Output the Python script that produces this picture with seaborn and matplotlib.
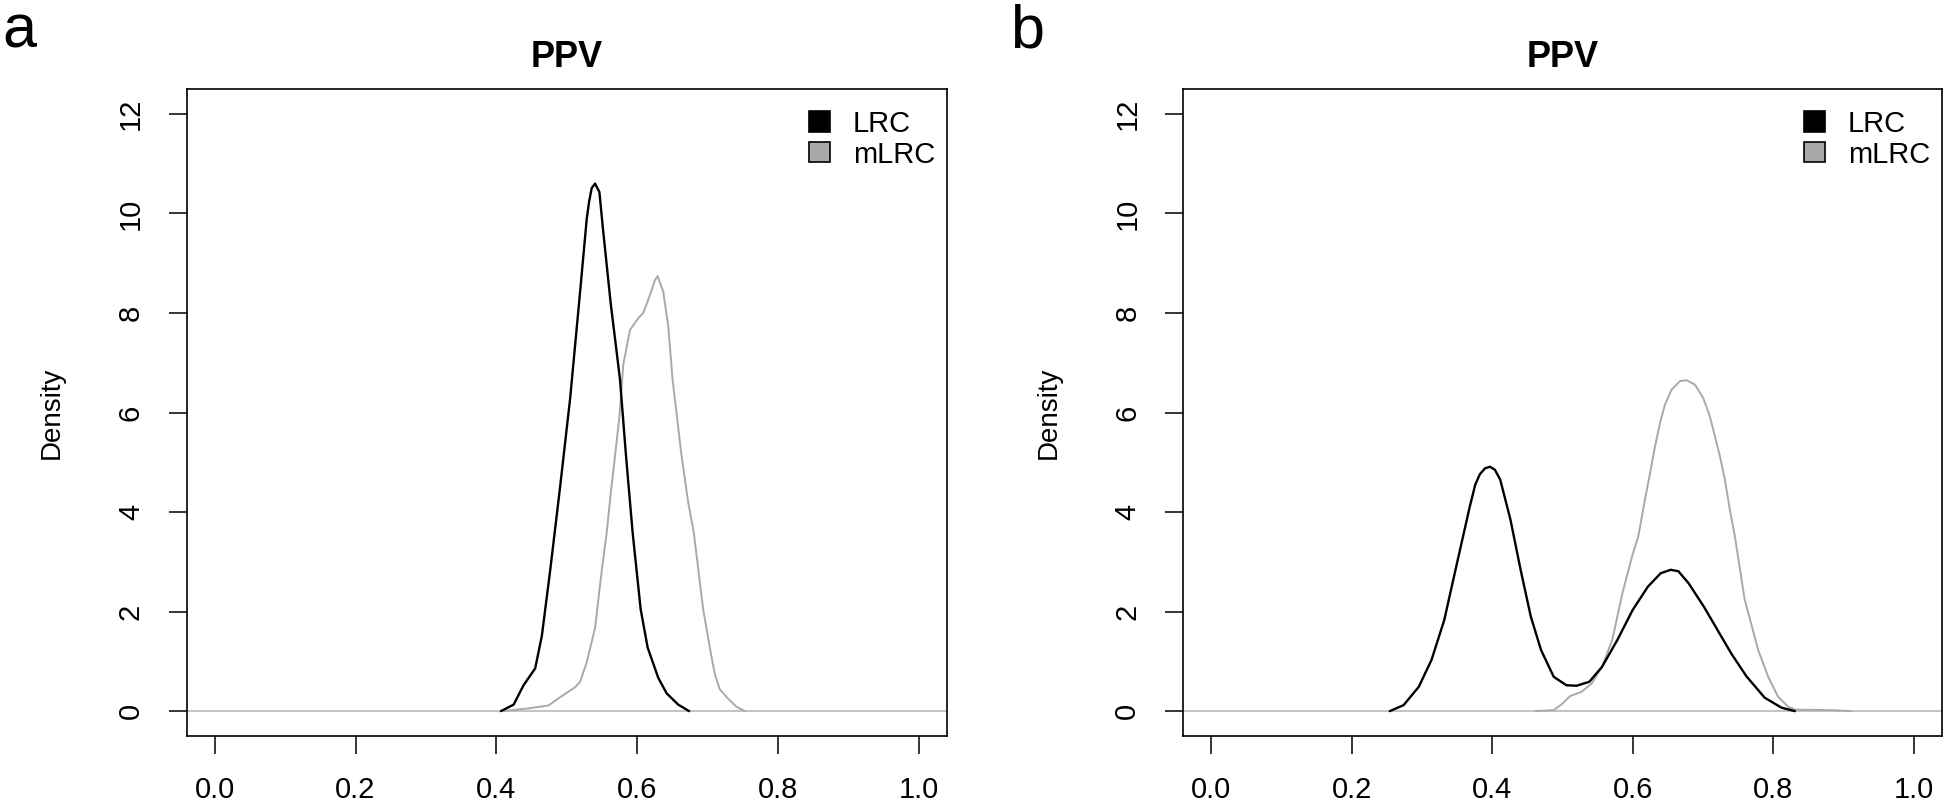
import matplotlib
matplotlib.use("Agg")
import matplotlib.pyplot as plt
from matplotlib.patches import Patch
import seaborn as sns

# density curves, panel a
lrc_a_x = [0.4066, 0.4246, 0.4387, 0.4553, 0.4647, 0.4765, 0.4907, 0.5049, 0.5191,
           0.5285, 0.532, 0.5356, 0.5403, 0.5465, 0.5512, 0.5625, 0.5758, 0.5843,
           0.5937, 0.6051, 0.615, 0.6301, 0.6419, 0.6585, 0.674]
lrc_a_y = [0.0, 0.13, 0.52, 0.86, 1.51, 2.82, 4.51, 6.28, 8.43,
           9.89, 10.25, 10.51, 10.6, 10.43, 9.74, 8.20, 6.66, 5.13,
           3.59, 2.05, 1.28, 0.67, 0.36, 0.13, 0.0]

mlrc_a_x = [0.4104, 0.4482, 0.4742, 0.4907, 0.512, 0.5191, 0.5285, 0.5403, 0.5498,
            0.5569, 0.5625, 0.5687, 0.5748, 0.5805, 0.59, 0.6018, 0.6088, 0.6183,
            0.6254, 0.6292, 0.6372, 0.6443, 0.6505, 0.6632, 0.6726, 0.6806, 0.6939,
            0.7033, 0.7104, 0.7175, 0.7293, 0.7411, 0.7529]
mlrc_a_y = [0.0, 0.06, 0.115, 0.28, 0.48, 0.59, 0.98, 1.67, 2.82,
            3.59, 4.36, 5.13, 5.90, 6.97, 7.66, 7.90, 8.0, 8.36,
            8.66, 8.74, 8.43, 7.74, 6.66, 5.13, 4.20, 3.59, 2.05,
            1.28, 0.75, 0.44, 0.25, 0.09, 0.0]

# panel b
lrc_b_x = [0.2543, 0.274, 0.2957, 0.3138, 0.3319, 0.35, 0.3681, 0.376, 0.3826, 0.39, 0.3971,
           0.404, 0.4116, 0.4261, 0.4406, 0.4551, 0.4696, 0.4877, 0.5058, 0.5203,
           0.5384, 0.5565, 0.5783, 0.6, 0.6217, 0.6399, 0.6543, 0.6652, 0.6797,
           0.7014, 0.7304, 0.7408, 0.762, 0.788, 0.8118, 0.831]
lrc_b_y = [0.0, 0.12, 0.49, 1.03, 1.83, 2.97, 4.10, 4.55, 4.76, 4.88, 4.91,
           4.85, 4.65, 3.85, 2.84, 1.90, 1.23, 0.69, 0.52, 0.51,
           0.59, 0.89, 1.43, 2.03, 2.50, 2.77, 2.84, 2.81, 2.57,
           2.10, 1.40, 1.15, 0.70, 0.27, 0.07, 0.0]

mlrc_b_x = [0.462, 0.4877, 0.5, 0.5108, 0.5275, 0.542, 0.5565, 0.571, 0.5855, 0.6,
            0.6081, 0.6176, 0.6248, 0.6319, 0.639, 0.6461, 0.6555, 0.6674, 0.6768,
            0.6887, 0.7006, 0.71, 0.7172, 0.7243, 0.7314, 0.7385, 0.7456, 0.7594,
            0.7787, 0.793, 0.807, 0.8213, 0.831, 0.8826, 0.9116]
mlrc_b_y = [0.0, 0.02, 0.15, 0.30, 0.39, 0.56, 0.89, 1.43, 2.37, 3.15,
            3.51, 4.25, 4.78, 5.32, 5.79, 6.16, 6.46, 6.63, 6.65,
            6.56, 6.29, 5.92, 5.52, 5.12, 4.65, 4.04, 3.51, 2.25,
            1.23, 0.69, 0.29, 0.09, 0.03, 0.02, 0.0]

x_ticks = [0.0, 0.2, 0.4, 0.6, 0.8, 1.0]
y_ticks = [0, 2, 4, 6, 8, 10, 12]
series_names = ["LRC", "mLRC"]
panel_letters = ["a", "b"]

sns.set_style("white")
plt.rcParams['font.family'] = ['Liberation Sans', 'DejaVu Sans']
plt.rcParams['text.color'] = 'black'
plt.rcParams['axes.labelcolor'] = 'black'

fig = plt.figure(figsize=(19.46, 8.05), dpi=100)
ax_a = fig.add_axes([0.0959, 0.0857, 0.3906, 0.8037])
ax_b = fig.add_axes([0.6079, 0.0857, 0.3899, 0.8037])

panels = [(ax_a, lrc_a_x, lrc_a_y, mlrc_a_x, mlrc_a_y),
          (ax_b, lrc_b_x, lrc_b_y, mlrc_b_x, mlrc_b_y)]

for ax, lx, ly, mx, my in panels:
    ax.axhline(0, color='#bebebe', lw=1.3, zorder=1)
    sns.lineplot(x=lx, y=ly, ax=ax, color='black', lw=1.7, sort=False, estimator=None, zorder=3)
    sns.lineplot(x=mx, y=my, ax=ax, color='#a9a9a9', lw=1.4, sort=False, estimator=None, zorder=2)

    ax.set_xlim(-0.04, 1.04)
    ax.set_ylim(-0.5, 12.5)
    ax.set_xticks(x_ticks)
    ax.set_xticklabels([f"{t:.1f}" for t in x_ticks])
    ax.set_yticks(y_ticks)
    ax.set_yticklabels([str(t) for t in y_ticks], rotation=90, va='center')
    ax.tick_params(axis='both', direction='out', length=13, width=1.1, colors='black',
                   labelsize=21, left=True, bottom=True)
    ax.tick_params(axis='x', pad=16)
    ax.tick_params(axis='y', pad=17)
    for sp in ax.spines.values():
        sp.set_visible(True)
        sp.set_color('black')
        sp.set_linewidth(1.2)

    ax.set_title("PPV", fontsize=26, fontweight='bold', pad=16, color='black')
    ax.set_ylabel("Density", fontsize=20, color='black')
    ax.yaxis.set_label_coords(-0.160, 0.5)
    ax.set_xlabel("")

    handles = [Patch(facecolor='black', edgecolor='black', lw=1.2),
               Patch(facecolor='#a9a9a9', edgecolor='black', lw=1.2)]
    leg = ax.legend(handles, series_names, loc='upper right', bbox_to_anchor=(0.985, 0.968),
                    frameon=False, fontsize=21, borderpad=0, borderaxespad=0,
                    handlelength=0.72, handleheight=0.68, handletextpad=0.8, labelspacing=0.1)
    for t in leg.get_texts():
        t.set_color('black')

fig.text(0.001, 1 - 48 / 805, panel_letters[0], fontsize=44, va='baseline', ha='left', color='black')
fig.text(1010 / 1946, 1 - 48 / 805, panel_letters[1], fontsize=44, va='baseline', ha='left', color='black')

fig.savefig("out.png", dpi=100)
